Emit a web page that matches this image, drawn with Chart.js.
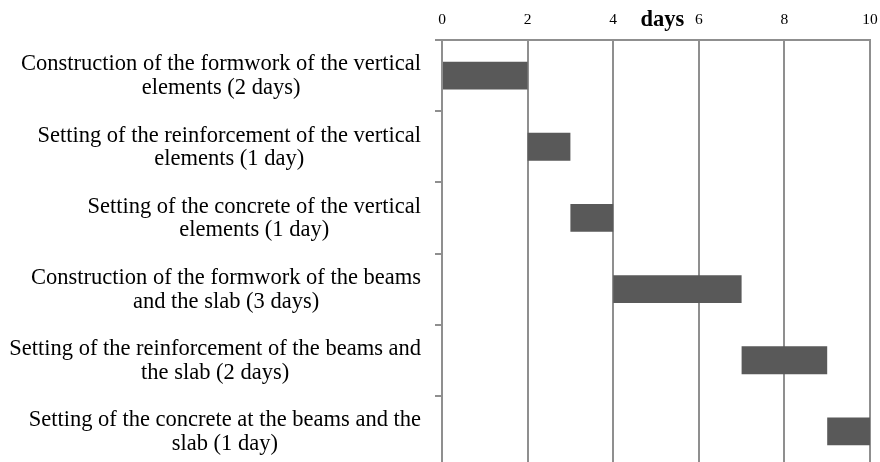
<!DOCTYPE html>
<html>
<head>
<meta charset="utf-8">
<script src="https://cdn.jsdelivr.net/npm/chart.js@4/dist/chart.umd.min.js"></script>
<style>
    html, body { margin: 0; padding: 0; background: #fff; overflow: hidden; }
    #wrap { width: 880px; height: 467px; position: relative; }
</style>
</head>
<body>
<div id="wrap"><canvas id="gantt"></canvas></div>
<script>
const tasks = [
    ['Construction of the formwork of the vertical', 'elements (2 days)'],
    ['Setting of the reinforcement of the vertical', 'elements (1 day)'],
    ['Setting of the concrete of the vertical', 'elements (1 day)'],
    ['Construction of the formwork of the beams', 'and the slab (3 days)'],
    ['Setting of the reinforcement of the beams and', 'the slab (2 days)'],
    ['Setting of the concrete at the beams and the', 'slab (1 day)']
];
const startDays = [0, 2, 3, 4, 7, 9];
const endDays = [2, 3, 4, 7, 9, 10];
const dayTicks = [0, 2, 4, 6, 8, 10];

const serif = '"Liberation Serif", "Times New Roman", serif';
const gridColor = '#8f8f8f';

// task names: block right aligned, lines centered to each other
const taskLabels = {
    id: 'taskLabels',
    afterDraw(chart) {
        const ctx = chart.ctx;
        const y = chart.scales.y;
        const x = chart.scales.x;
        ctx.save();
        ctx.fillStyle = '#000';
        ctx.font = '22.5px ' + serif;
        ctx.textBaseline = 'alphabetic';
        ctx.textAlign = 'center';
        const rightEdge = 421;
        tasks.forEach(function(lines, i) {
            const cy = y.getPixelForValue(i);
            const w = Math.max.apply(null, lines.map(l => ctx.measureText(l).width));
            const cx = rightEdge - w / 2;
            ctx.fillText(lines[0], cx, cy - 5.2);
            ctx.fillText(lines[1], cx, cy + 18.5);
        });
        // axis title sits in the tick label row
        ctx.font = 'bold 22.5px ' + serif;
        ctx.fillText('days', x.getPixelForValue(5.15), 26);
        ctx.restore();
    }
};

new Chart(document.getElementById('gantt'), {
    type: 'bar',
    data: {
        labels: tasks,
        datasets: [{
            data: startDays.map((s, i) => [s, endDays[i]]),
            backgroundColor: '#595959',
            borderWidth: 0,
            barPercentage: 0.39,
            categoryPercentage: 1
        }]
    },
    options: {
        indexAxis: 'y',
        responsive: true,
        maintainAspectRatio: false,
        animation: false,
        layout: { padding: { left: 0, right: 10, top: 0, bottom: 0 } },
        plugins: {
            legend: { display: false },
            tooltip: { enabled: false }
        },
        scales: {
            x: {
                position: 'top',
                min: 0,
                max: 10,
                afterBuildTicks: function(scale) {
                    scale.ticks = dayTicks.map(v => ({ value: v }));
                },
                afterFit: function(scale) {
                    scale.height = 40;
                    scale.paddingLeft = 0;
                    scale.paddingRight = 0;
                },
                grid: {
                    color: gridColor,
                    lineWidth: 2,
                    drawTicks: false
                },
                border: { display: true, color: gridColor, width: 2 },
                ticks: {
                    color: '#000',
                    padding: 11,
                    font: { family: serif, size: 15.5 }
                }
            },
            y: {
                afterFit: function(scale) { scale.width = 442; },
                grid: {
                    offset: true,
                    drawOnChartArea: false,
                    tickLength: 7,
                    color: gridColor,
                    lineWidth: 2
                },
                border: { display: true, color: gridColor, width: 2 },
                ticks: { display: false }
            }
        }
    },
    plugins: [taskLabels]
});
</script>
</body>
</html>
